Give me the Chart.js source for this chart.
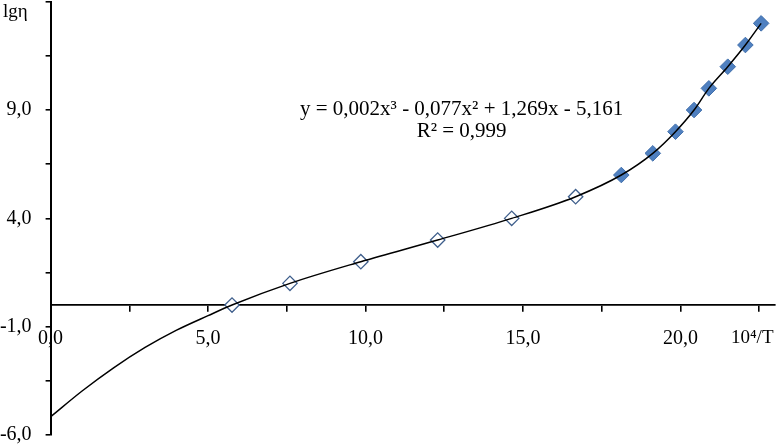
<!DOCTYPE html>
<html><head><meta charset="utf-8">
<script src="https://cdn.jsdelivr.net/npm/chart.js@4/dist/chart.umd.min.js"></script>
<style>html,body{margin:0;padding:0;background:#fff}#wrap{width:778px;height:447px;position:relative}</style>
</head><body><div id="wrap"><canvas id="c"></canvas></div>
<script>
// ---- data ----
const xOpen = [5.76, 7.60, 9.85, 12.29, 14.64, 16.67];
const yOpen = [0, 1, 2, 3, 4, 5];
const xFilled = [18.12, 19.12, 19.84, 20.43, 20.90, 21.50, 22.06, 22.56];
const yFilled = [6, 7, 8, 9, 10, 11, 12, 13];
const trendLeadX = [0, 1.0, 2.0, 3.0, 4.0, 5.0];
const trendLeadY = [-5.16, -3.97, -2.90, -1.96, -1.16, -0.49];
const xTicks = [0, 2.5, 5, 7.5, 10, 12.5, 15, 17.5, 20, 22.5];
const xTickLabels = ['0,0', '', '5,0', '', '10,0', '', '15,0', '', '20,0', ''];
const yTicks = [-6, -3.5, -1, 1.5, 4, 6.5, 9, 11.5, 14];
const yTickLabels = ['-6,0', '', '-1,0', '', '4,0', '', '9,0', '', ''];
const equationLines = ['y = 0,002x³ - 0,077x² + 1,269x - 5,161', 'R² = 0,999'];
const yTitle = 'lgη';
const xTitle = '10⁴/T';

// trend line passes through the lead readings and then through the markers
const trendX = trendLeadX.concat(xOpen, xFilled);
const trendY = trendLeadY.concat(yOpen, yFilled);
const trend = trendX.map((x, i) => ({x, y: trendY[i]}));

const FONT = '"Liberation Serif", "Times New Roman", serif';
Chart.defaults.font.family = FONT;
Chart.defaults.color = '#000';

const textPlugin = {
  id: 'texts',
  afterDraw(chart) {
    const ctx = chart.ctx, sx = chart.scales.x, sy = chart.scales.y;
    ctx.save();
    ctx.fillStyle = '#000';
    ctx.font = '21px ' + FONT;
    ctx.textAlign = 'center';
    ctx.textBaseline = 'alphabetic';
    const cx = sx.getPixelForValue(13.05);
    ctx.fillText(equationLines[0], cx, sy.getPixelForValue(8.76));
    ctx.fillText(equationLines[1], cx, sy.getPixelForValue(7.76));
    ctx.font = '19px ' + FONT;
    ctx.textAlign = 'left';
    ctx.fillText(yTitle, 3, 17);
    ctx.fillText(xTitle, 731, 343);
    ctx.restore();
  }
};

function zeroPad(scale) {
  scale.paddingTop = 0; scale.paddingBottom = 0;
  scale.paddingLeft = 0; scale.paddingRight = 0;
}

new Chart(document.getElementById('c'), {
  type: 'scatter',
  data: {
    datasets: [
      {
        label: 'trend', data: trend, showLine: true, pointRadius: 0,
        borderColor: '#000', borderWidth: 1.5, order: 0,
        cubicInterpolationMode: 'monotone'
      },
      {
        label: 'open', data: xOpen.map((x, i) => ({x, y: yOpen[i]})),
        pointStyle: 'rectRot', pointRadius: 7.2, pointBorderWidth: 1.3,
        pointBackgroundColor: '#ffffff', pointBorderColor: '#3f5f8c', order: 1
      },
      {
        label: 'filled', data: xFilled.map((x, i) => ({x, y: yFilled[i]})),
        pointStyle: 'rectRot', pointRadius: 7.8, pointBorderWidth: 1,
        pointBackgroundColor: '#4f80c0', pointBorderColor: '#416fab', order: 2
      }
    ]
  },
  options: {
    responsive: true, maintainAspectRatio: false, animation: false,
    layout: {autoPadding: false, padding: {top: 1.7, right: 3, bottom: 12, left: 0}},
    plugins: {legend: {display: false}, tooltip: {enabled: false}},
    scales: {
      x: {
        type: 'linear', position: {y: 0}, min: 0, max: 23,
        afterBuildTicks: s => { s.ticks = xTicks.map(v => ({value: v})); },
        afterFit: zeroPad,
        grid: {drawOnChartArea: false, drawTicks: true, tickLength: 6, color: '#000', lineWidth: 1.6},
        border: {display: true, color: '#000', width: 1.8},
        ticks: {
          autoSkip: false, maxRotation: 0, padding: 16, color: '#000',
          font: {size: 20, family: FONT},
          callback: (v, i) => xTickLabels[i]
        }
      },
      y: {
        type: 'linear', position: 'left', min: -6, max: 14,
        afterBuildTicks: s => { s.ticks = yTicks.map(v => ({value: v})); },
        afterFit: s => { s.width = 50.6; zeroPad(s); },
        grid: {drawOnChartArea: false, drawTicks: true, tickLength: 5, color: '#000', lineWidth: 1.6},
        border: {display: true, color: '#000', width: 2},
        ticks: {
          autoSkip: false, padding: 14, color: '#000',
          font: {size: 20, family: FONT},
          callback: (v, i) => yTickLabels[i]
        }
      }
    }
  },
  plugins: [textPlugin]
});
</script>
</body></html>
